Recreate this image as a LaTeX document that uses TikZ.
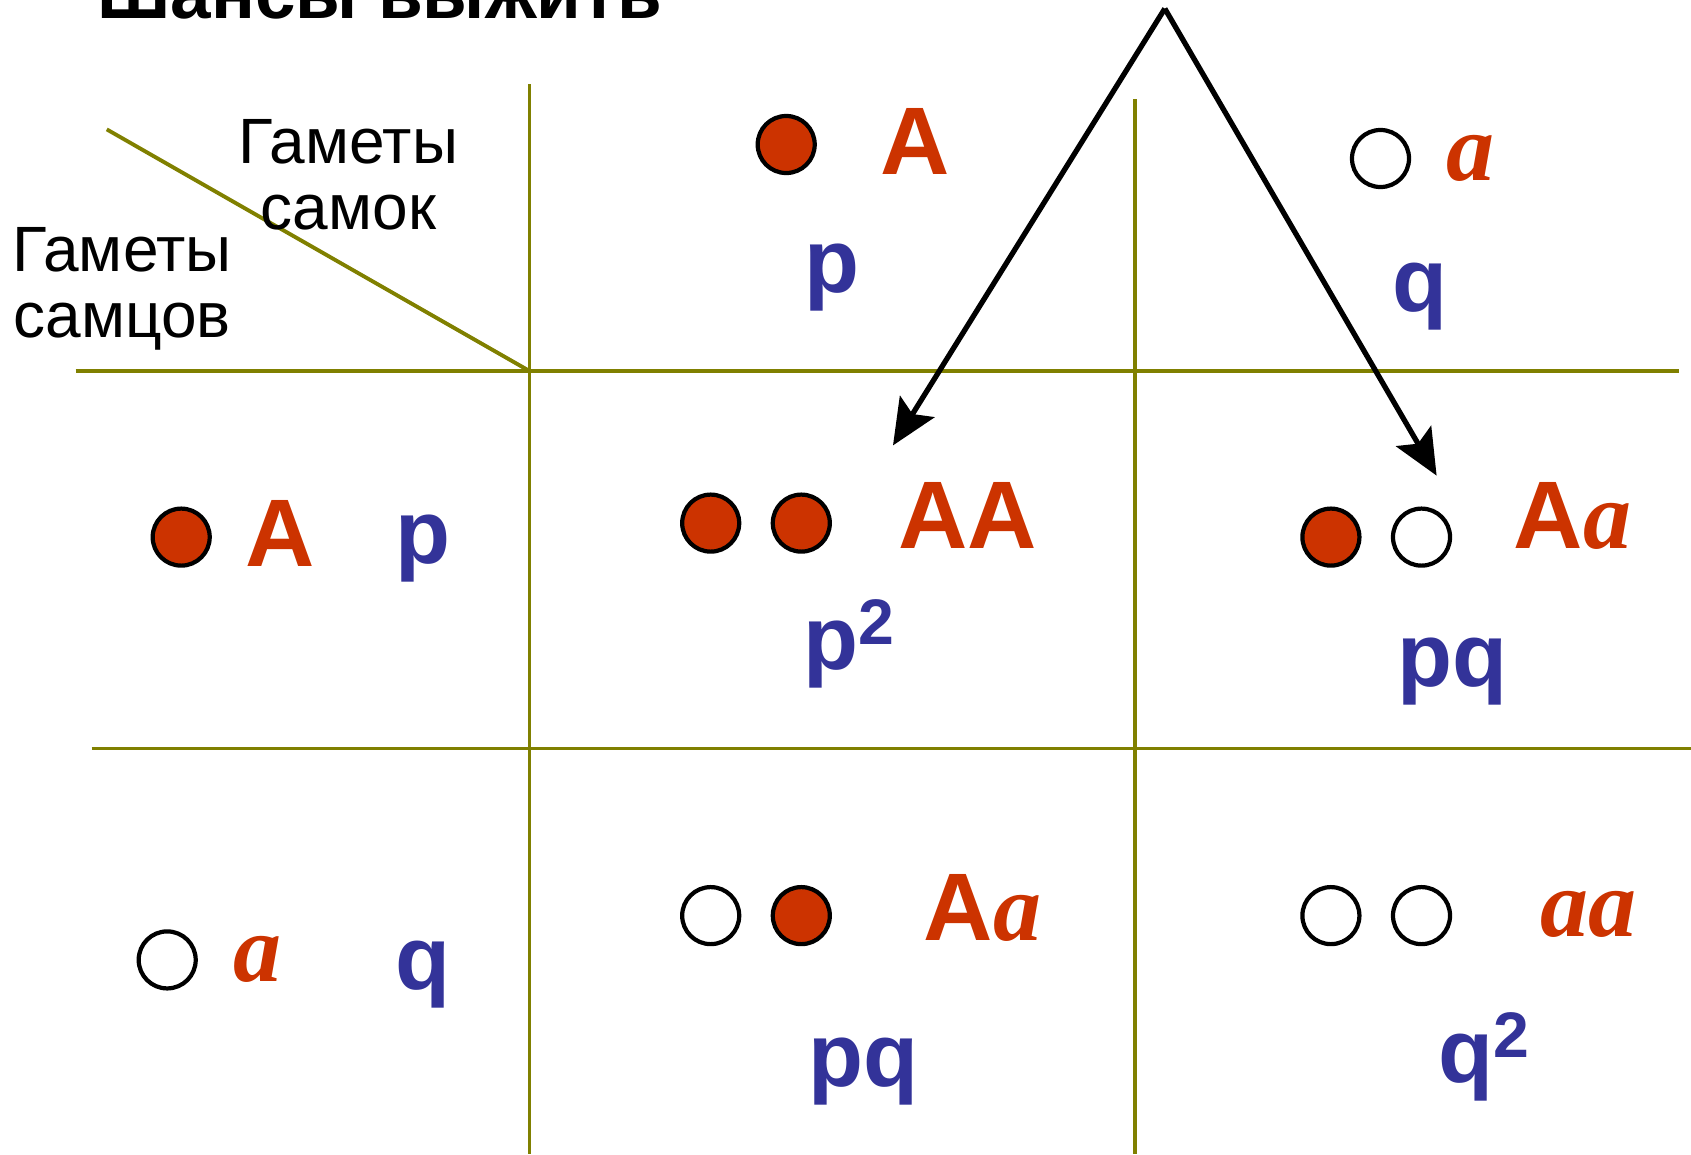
\documentclass[tikz,border=0pt]{standalone}
\usepackage{fontspec}
\setmainfont{Liberation Sans}
\newfontfamily\serifit{Liberation Serif}
\usetikzlibrary{arrows.meta}

\definecolor{gridcol}{RGB}{128,128,0}
\definecolor{domred}{RGB}{204,51,0}
\definecolor{freqblue}{RGB}{51,51,153}

\newcommand{\alla}{{\serifit\itshape a}}
\newcommand{\sqr}{\raisebox{7pt}{\fontsize{18.3}{18.3}\selectfont 2}}

\begin{document}
\begin{tikzpicture}[x=0.01cm, y=-0.01cm]
        \useasboundingbox (0,0) rectangle (1691,1154);
        \tikzstyle{grid} = [draw=gridcol, line width=1.1pt]
        \tikzstyle{gamete} = [circle, draw, line width=1.2pt, minimum size=5.7mm, inner sep=0pt]
        \tikzstyle{dom} = [gamete, fill=domred]
        \tikzstyle{rec} = [gamete, fill=white]
        \tikzstyle{gene} = [anchor=base, inner sep=0pt, text=domred, font=\fontsize{27.3}{27.3}\selectfont\bfseries]
        \tikzstyle{freq} = [anchor=base, inner sep=0pt, text=freqblue, font=\fontsize{25.6}{25.6}\selectfont\bfseries]
        \tikzstyle{head} = [align=center, anchor=base, inner sep=0pt, font=\fontsize{18.2}{18.7}\selectfont]

        % table lines
        \draw[grid] (106.8,129.4) -- (529.5,371);
        \draw[grid] (75.5,371) -- (1679,371);
        \draw[grid] (91.7,748.5) -- (1691,748.5);
        \draw[grid] (529.5,84) -- (529.5,1154);
        \draw[grid] (1134.6,99) -- (1134.6,1154);

        \node[anchor=base west, inner sep=0pt, font=\fontsize{20.7}{20.7}\selectfont\bfseries]
            (title) at (97,18) {Шансы выжить};
        \node[head] (female) at (348.4,229.7) {Гаметы\\самок};
        \node[head] (male) at (122,337.6) {Гаметы\\самцов};

        % female gametes
        \node[dom] (fA) at (786.2,144.5) {};
        \node[gene] (fAlab) at (915,174.7) {A};
        \node[freq] (fp) at (831.5,292) {p};
        \node[rec] (fa) at (1380.5,158.5) {};
        \node[gene] (falab) at (1470,180) {\alla};
        \node[freq] (fq) at (1420,311) {q};

        % male gametes
        \node[dom] (mA) at (181.2,537.1) {};
        \node[gene] (mAlab) at (280,566) {A};
        \node[freq] (mp) at (423,563) {p};
        \node[rec] (ma) at (167.2,959.9) {};
        \node[gene] (malab) at (257,981) {\alla};
        \node[freq] (mq) at (423,989) {q};

        % zygotes
        \node[dom] (AA1) at (710.7,523.1) {};
        \node[dom] (AA2) at (801.3,523.1) {};
        \node[gene] (AAlab) at (968,548) {AA};
        \node[freq, anchor=base west] (AAfr) at (803,669) {p\sqr};

        \node[dom] (Aa1) at (1330.9,537.1) {};
        \node[rec] (Aa2) at (1421.5,537.1) {};
        \node[gene] (Aalab) at (1572.6,548) {A\alla};
        \node[freq] (Aafr) at (1452.7,686) {pq};

        \node[rec] (aA1) at (710.7,915.6) {};
        \node[dom] (aA2) at (801.3,915.6) {};
        \node[gene] (aAlab) at (982.5,940) {A\alla};
        \node[freq] (aAfr) at (863,1086) {pq};

        \node[rec] (aa1) at (1330.9,915.6) {};
        \node[rec] (aa2) at (1421.5,915.6) {};
        \node[gene] (aalab) at (1588,936) {\alla\alla};
        \node[freq, anchor=base west] (aafr) at (1438,1082) {q\sqr};

        % arrows
        \coordinate (apex) at (1164.8,8.6);
        \coordinate (toAA) at (893,445.4);
        \coordinate (toAa) at (1436.6,475.6);
        \tikzstyle{EdgeStyle} = [line width=1.5pt, -{Stealth[length=13pt, width=11.5pt, inset=2.5pt]}]
        \draw[EdgeStyle] (apex) -- (toAA);
        \draw[EdgeStyle] (apex) -- (toAa);
\end{tikzpicture}
\end{document}
